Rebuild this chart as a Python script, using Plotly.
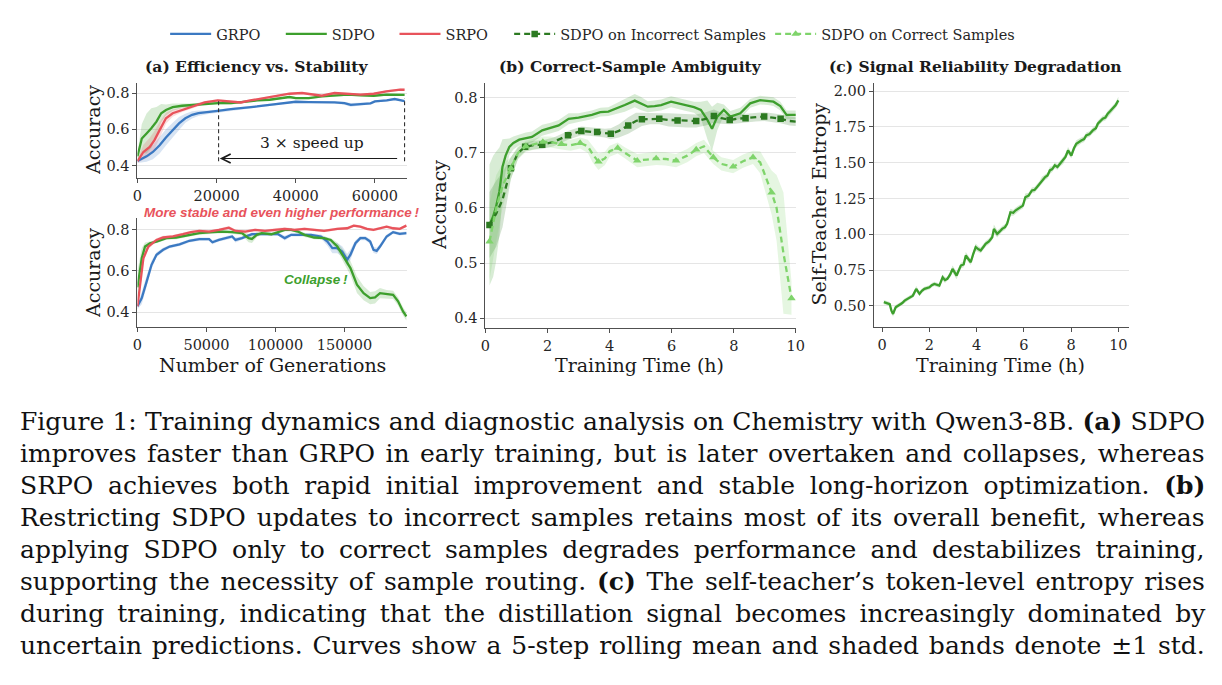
import plotly.graph_objects as go

W, H = 1222, 685

# ---------------- data ----------------
# (a) top : Efficiency vs. Stability (first ~68k generations)
grpo_top_x = [0, 2300, 3900, 5600, 7200, 8900, 10500, 12100, 13800, 15400, 17900, 20300, 23600, 26900, 30200,
              33400, 36700, 40000, 43300, 46600, 49800, 52300, 53900, 56400, 58900, 60000, 63000, 65000, 66400, 67500]
grpo_top_y = [0.426, 0.452, 0.476, 0.513, 0.556, 0.596, 0.633, 0.661, 0.680, 0.689, 0.694, 0.702, 0.711, 0.717, 0.726,
              0.735, 0.744, 0.752, 0.750, 0.750, 0.748, 0.744, 0.735, 0.739, 0.743, 0.754, 0.759, 0.767, 0.763, 0.756]
grpo_top_s = [0.010, 0.030, 0.040, 0.045, 0.045, 0.040, 0.035, 0.025, 0.020, 0.015, 0.010, 0.008, 0.008, 0.007, 0.007,
              0.006, 0.006, 0.006, 0.006, 0.006, 0.006, 0.008, 0.010, 0.008, 0.006, 0.006, 0.006, 0.006, 0.006, 0.006]

sdpo_top_x = [0, 1100, 2300, 3500, 4800, 6000, 7200, 8900, 11300, 13800, 17000, 20300, 23600, 26900, 30200, 33400,
              36700, 38400, 40000, 43300, 46600, 49800, 53100, 56400, 59700, 62900, 66400, 67500]
sdpo_top_y = [0.452, 0.550, 0.578, 0.606, 0.643, 0.689, 0.707, 0.722, 0.730, 0.733, 0.741, 0.744, 0.744, 0.752, 0.759,
              0.763, 0.772, 0.778, 0.772, 0.772, 0.781, 0.785, 0.791, 0.787, 0.785, 0.791, 0.791, 0.790]
sdpo_top_s = [0.020, 0.080, 0.110, 0.110, 0.080, 0.050, 0.030, 0.020, 0.012, 0.010, 0.008, 0.007, 0.007, 0.006, 0.006,
              0.006, 0.006, 0.006, 0.006, 0.006, 0.006, 0.006, 0.006, 0.006, 0.006, 0.006, 0.006, 0.006]

srpo_top_x = [0, 1500, 3100, 4300, 5600, 7200, 8900, 11300, 13800, 17000, 20300, 23600, 26100, 28500, 31800, 35100,
              38400, 41600, 44900, 46600, 49800, 53100, 56400, 59700, 62900, 66400, 67500]
srpo_top_y = [0.426, 0.476, 0.504, 0.541, 0.596, 0.661, 0.689, 0.707, 0.726, 0.748, 0.759, 0.754, 0.748, 0.759, 0.772,
              0.781, 0.796, 0.800, 0.791, 0.785, 0.800, 0.796, 0.791, 0.796, 0.809, 0.819, 0.818]
srpo_top_s = [0.010, 0.040, 0.050, 0.050, 0.045, 0.030, 0.020, 0.012, 0.010, 0.008, 0.007, 0.007, 0.007, 0.006, 0.006,
              0.006, 0.006, 0.006, 0.006, 0.006, 0.006, 0.006, 0.006, 0.006, 0.006, 0.006, 0.006]

# (a) bottom : full run
grpo_bot_x = [0, 3100, 6700, 10200, 13800, 18600, 23300, 30500, 37600, 44800, 51900, 54300, 59000, 63800, 68600,
              71000, 75700, 82900, 90000, 94800, 101900, 106700, 111400, 118600, 125700, 132900, 137600, 141200,
              144800, 148300, 151900, 154300, 157900, 161400, 165000, 168600, 171000, 173300, 175700, 180500,
              185200, 190000, 194800]
grpo_bot_y = [0.428, 0.468, 0.549, 0.630, 0.679, 0.703, 0.719, 0.730, 0.747, 0.755, 0.755, 0.740, 0.751, 0.760, 0.768,
              0.751, 0.760, 0.779, 0.779, 0.779, 0.779, 0.760, 0.776, 0.776, 0.776, 0.768, 0.743, 0.711,
              0.711, 0.695, 0.654, 0.679, 0.735, 0.760, 0.760, 0.743, 0.703, 0.698, 0.719, 0.768,
              0.789, 0.781, 0.784]
grpo_bot_s = [0.015, 0.030, 0.030, 0.020, 0.012, 0.010, 0.008, 0.008, 0.008, 0.008, 0.008, 0.010, 0.008, 0.008, 0.010,
              0.012, 0.008, 0.008, 0.008, 0.008, 0.008, 0.012, 0.008, 0.008, 0.008, 0.010, 0.020, 0.025,
              0.025, 0.025, 0.030, 0.025, 0.015, 0.010, 0.010, 0.012, 0.015, 0.015, 0.012, 0.010,
              0.008, 0.008, 0.008]

sdpo_bot_x = [0, 3100, 5500, 9000, 13800, 21000, 28000, 35000, 44800, 54300, 61400, 68600, 75700, 80500, 82900,
              86400, 90000, 97000, 101900, 106700, 111400, 116200, 121000, 128000, 135200, 140000, 144800, 149500,
              154300, 159000, 163800, 168600, 172100, 175700, 180500, 185200, 188800, 192400, 194800]
sdpo_bot_y = [0.520, 0.662, 0.719, 0.735, 0.743, 0.760, 0.763, 0.772, 0.784, 0.789, 0.792, 0.789, 0.784, 0.760, 0.756,
              0.776, 0.784, 0.779, 0.789, 0.800, 0.800, 0.792, 0.776, 0.763, 0.760, 0.751, 0.719, 0.670,
              0.614, 0.533, 0.492, 0.468, 0.471, 0.492, 0.487, 0.484, 0.452, 0.403, 0.379]
sdpo_bot_s = [0.080, 0.050, 0.020, 0.010, 0.008, 0.008, 0.008, 0.008, 0.008, 0.008, 0.008, 0.008, 0.010, 0.020, 0.020,
              0.012, 0.008, 0.008, 0.008, 0.008, 0.008, 0.008, 0.010, 0.008, 0.008, 0.010, 0.020, 0.030,
              0.035, 0.040, 0.035, 0.030, 0.030, 0.025, 0.020, 0.020, 0.020, 0.020, 0.020]

srpo_bot_x = [0, 1900, 4300, 7900, 13800, 18600, 25700, 32900, 38800, 44800, 51900, 59000, 66200, 71000, 78100,
              85200, 92400, 99500, 106700, 113800, 121000, 128100, 135200, 140000, 144800, 151900, 156700,
              161400, 166200, 171000, 175700, 180500, 185200, 190000, 194800]
srpo_bot_y = [0.428, 0.533, 0.662, 0.719, 0.751, 0.763, 0.768, 0.779, 0.789, 0.795, 0.792, 0.800, 0.811, 0.795, 0.792,
              0.800, 0.795, 0.800, 0.805, 0.800, 0.805, 0.800, 0.795, 0.800, 0.805, 0.808, 0.821,
              0.816, 0.805, 0.800, 0.808, 0.816, 0.808, 0.805, 0.821]
srpo_bot_s = [0.015, 0.030, 0.020, 0.012, 0.008, 0.008, 0.007, 0.007, 0.007, 0.007, 0.007, 0.007, 0.008, 0.007, 0.007,
              0.007, 0.007, 0.008, 0.008, 0.007, 0.007, 0.007, 0.007, 0.007, 0.007, 0.007, 0.007,
              0.007, 0.007, 0.007, 0.007, 0.007, 0.007, 0.007, 0.007]

# (b) Correct-Sample Ambiguity (training time in hours)
sdpo_b_x = [0.13, 0.25, 0.34, 0.45, 0.55, 0.65, 0.77, 0.90, 1.09, 1.30, 1.50, 1.83, 2.10, 2.36, 2.68, 3.00, 3.43,
            3.70, 3.96, 4.20, 4.49, 4.81, 5.00, 5.23, 5.45, 5.66, 5.98, 6.20, 6.40, 6.72, 6.94, 7.15, 7.30,
            7.47, 7.68, 7.89, 8.21, 8.53, 8.85, 9.10, 9.28, 9.50, 9.70, 10.0]
sdpo_b_y = [0.569, 0.585, 0.602, 0.630, 0.675, 0.695, 0.711, 0.718, 0.724, 0.727, 0.729, 0.741, 0.745, 0.750, 0.762,
            0.764, 0.769, 0.774, 0.775, 0.780, 0.787, 0.795, 0.790, 0.784, 0.785, 0.787, 0.793, 0.790, 0.787,
            0.783, 0.778, 0.760, 0.744, 0.766, 0.778, 0.766, 0.772, 0.790, 0.796, 0.795, 0.793, 0.785, 0.769,
            0.769]
sdpo_b_s = [0.110, 0.110, 0.100, 0.080, 0.050, 0.030, 0.015, 0.012, 0.010, 0.010, 0.010, 0.010, 0.010, 0.010, 0.010,
            0.008, 0.008, 0.008, 0.008, 0.010, 0.012, 0.012, 0.012, 0.010, 0.010, 0.010, 0.010, 0.010, 0.010,
            0.010, 0.015, 0.035, 0.040, 0.025, 0.010, 0.010, 0.010, 0.008, 0.008, 0.008, 0.008, 0.008, 0.008,
            0.008]

inc_b_x = [0.13, 0.35, 0.55, 0.82, 1.05, 1.28, 1.55, 1.83, 2.20, 2.66, 3.09, 3.35, 3.60, 3.85, 4.04, 4.30, 4.60,
           4.85, 5.04, 5.30, 5.60, 5.90, 6.19, 6.50, 6.79, 7.10, 7.36, 7.60, 7.87, 8.10, 8.38, 8.70, 8.98, 9.25,
           9.51, 9.80, 10.0]
inc_b_y = [0.569, 0.590, 0.615, 0.672, 0.700, 0.711, 0.714, 0.715, 0.720, 0.732, 0.740, 0.739, 0.738, 0.736, 0.735,
           0.740, 0.750, 0.758, 0.761, 0.762, 0.762, 0.760, 0.759, 0.758, 0.758, 0.762, 0.767, 0.763, 0.760, 0.762,
           0.763, 0.765, 0.766, 0.764, 0.762, 0.758, 0.757]
inc_b_s = [0.060, 0.060, 0.050, 0.020, 0.010, 0.008, 0.008, 0.008, 0.008, 0.008, 0.008, 0.008, 0.008, 0.008, 0.010,
           0.012, 0.015, 0.015, 0.012, 0.010, 0.010, 0.012, 0.012, 0.012, 0.012, 0.012, 0.012, 0.010, 0.008, 0.008,
           0.008, 0.008, 0.008, 0.008, 0.008, 0.008, 0.008]
inc_b_marker = [1, 0, 0, 1, 0, 1, 0, 1, 0, 1, 1, 0, 1, 0, 1, 0, 1, 0, 1, 0, 1, 0, 1, 0, 1, 0, 1, 0, 1, 0, 1, 0, 1, 0,
                1, 0, 0]

cor_b_x = [0.13, 0.35, 0.55, 0.82, 1.05, 1.30, 1.85, 2.10, 2.45, 2.75, 3.05, 3.30, 3.45, 3.64, 3.85, 4.00, 4.26, 4.50,
           4.89, 5.20, 5.50, 5.80, 6.14, 6.50, 6.79, 7.04, 7.34, 7.60, 7.98, 8.30, 8.62, 8.85, 9.06, 9.22, 9.38,
           9.60, 9.86]
cor_b_y = [0.539, 0.600, 0.640, 0.672, 0.700, 0.712, 0.720, 0.720, 0.716, 0.714, 0.718, 0.712, 0.698, 0.684, 0.690,
           0.703, 0.709, 0.700, 0.686, 0.688, 0.690, 0.689, 0.686, 0.695, 0.706, 0.712, 0.692, 0.680, 0.675, 0.685,
           0.692, 0.683, 0.652, 0.628, 0.600, 0.518, 0.436]
cor_b_s = [0.070, 0.060, 0.040, 0.020, 0.012, 0.010, 0.010, 0.010, 0.010, 0.010, 0.010, 0.012, 0.015, 0.015, 0.012,
           0.010, 0.010, 0.010, 0.012, 0.012, 0.012, 0.012, 0.012, 0.012, 0.012, 0.012, 0.012, 0.012, 0.012, 0.012,
           0.012, 0.020, 0.030, 0.040, 0.060, 0.110, 0.030]
cor_b_marker = [1, 0, 0, 1, 0, 1, 1, 0, 1, 0, 1, 0, 0, 1, 0, 0, 1, 0, 1, 0, 1, 0, 1, 0, 1, 0, 1, 0, 1, 0, 1, 0, 0, 1,
                0, 0, 1]

# (c) Signal Reliability Degradation
ent_x = [0.07, 0.18, 0.25, 0.32, 0.39, 0.46, 0.57, 0.66, 0.74, 0.85, 0.95, 1.05, 1.16, 1.30, 1.44, 1.58, 1.68, 1.79,
         2.00, 2.10, 2.21, 2.42, 2.56, 2.66, 2.76, 2.88, 2.98, 3.15, 3.33, 3.45, 3.54, 3.65, 3.75, 3.85, 3.96, 4.08,
         4.17, 4.30, 4.38, 4.52, 4.66, 4.73, 4.87, 4.98, 5.08, 5.20, 5.29, 5.43, 5.55, 5.64, 5.85, 5.96, 6.06,
         6.20, 6.34, 6.45, 6.55, 6.66, 6.76, 6.90, 7.00, 7.10, 7.20, 7.31, 7.42, 7.52, 7.66, 7.76, 7.87, 8.01,
         8.12, 8.22, 8.43, 8.55, 8.64, 8.78, 8.92, 9.05, 9.13, 9.34, 9.45, 9.55, 9.66, 9.76, 9.88, 10.0]
ent_y = [0.526, 0.522, 0.519, 0.512, 0.467, 0.444, 0.491, 0.500, 0.514, 0.520, 0.537, 0.548, 0.560, 0.572, 0.619,
         0.584, 0.605, 0.619, 0.630, 0.645, 0.654, 0.642, 0.700, 0.680, 0.689, 0.720, 0.758, 0.712, 0.782, 0.790,
         0.852, 0.825, 0.805, 0.860, 0.910, 0.895, 0.887, 0.915, 0.933, 0.950, 0.980, 1.038, 1.003, 1.020, 1.038,
         1.050, 1.073, 1.154, 1.150, 1.166, 1.189, 1.200, 1.259, 1.270, 1.306, 1.310, 1.329, 1.350, 1.376, 1.399,
         1.410, 1.446, 1.455, 1.481, 1.470, 1.492, 1.515, 1.540, 1.585, 1.550, 1.600, 1.632, 1.655, 1.665, 1.690,
         1.700, 1.725, 1.740, 1.772, 1.807, 1.815, 1.842, 1.860, 1.877, 1.900, 1.935]
ent_s = [0.015, 0.015, 0.015, 0.015, 0.020, 0.020, 0.015, 0.015, 0.015, 0.015, 0.015, 0.015, 0.015,
         0.015, 0.020, 0.015, 0.015, 0.015, 0.015, 0.015, 0.015, 0.015, 0.020, 0.020, 0.015, 0.020,
         0.025, 0.025, 0.020, 0.020, 0.025, 0.020, 0.020, 0.020, 0.025, 0.020, 0.020, 0.020, 0.020,
         0.020, 0.020, 0.030, 0.025, 0.020, 0.020, 0.020, 0.020, 0.025, 0.020, 0.020, 0.020, 0.020,
         0.025, 0.020, 0.020, 0.020, 0.020, 0.020, 0.025, 0.020, 0.020, 0.025, 0.020, 0.020, 0.020,
         0.020, 0.025, 0.020, 0.025, 0.020, 0.020, 0.025, 0.020, 0.020, 0.020, 0.020, 0.020, 0.020,
         0.020, 0.020, 0.020, 0.020, 0.020, 0.020, 0.020, 0.025]

# ticks
a_top_xticks = [0, 20000, 40000, 60000]
a_bot_xticks = [0, 50000, 100000, 150000]
acc_a_yticks = [0.4, 0.6, 0.8]
b_xticks = [0, 2, 4, 6, 8, 10]
b_yticks = [0.4, 0.5, 0.6, 0.7, 0.8]
c_xticks = [0, 2, 4, 6, 8, 10]
c_yticks = [0.50, 0.75, 1.00, 1.25, 1.50, 1.75, 2.00]

# speed-up annotation (data coords of panel a-top)
speed_left_x = 20500
speed_right_x = 67500
speed_arrow_y = 0.44
speed_left_top = 0.755
speed_right_top = 0.772
speed_bottom = 0.425

legend_names = ["GRPO", "SDPO", "SRPO", "SDPO on Incorrect Samples", "SDPO on Correct Samples"]

caption_lines = [
    "Figure 1: Training dynamics and diagnostic analysis on Chemistry with Qwen3-8B. <b>(a)</b> SDPO",
    "improves faster than GRPO in early training, but is later overtaken and collapses, whereas",
    "SRPO achieves both rapid initial improvement and stable long-horizon optimization. <b>(b)</b>",
    "Restricting SDPO updates to incorrect samples retains most of its overall benefit, whereas",
    "applying SDPO only to correct samples degrades performance and destabilizes training,",
    "supporting the necessity of sample routing. <b>(c)</b> The self-teacher\u2019s token-level entropy rises",
    "during training, indicating that the distillation signal becomes increasingly dominated by",
    "uncertain predictions. Curves show a 5-step rolling mean and shaded bands denote \u00b11 std.",
]

# ---------------- styling / layout constants ----------------
C_GRPO = "#3b79c2"
C_SDPO = "#3d9f2d"
C_SRPO = "#e8535b"
C_INC = "#2c7a21"
C_COR = "#7fd46b"
SERIF = "DejaVu Serif"
SPINE = "#505050"
CAP_SIZE = 25
CAP_X0 = 13
CAP_TARGET = 1183
# estimated natural pixel widths of the caption lines at CAP_SIZE (used for justification)
cap_natural = [1180, 1150, 1115, 1149, 1120, 1152, 1131, 1158]
legend_line_start = [167, 284, 399, 515, 779]


def rgba(hexc, a):
    h = hexc.lstrip("#")
    return "rgba(%d,%d,%d,%.3f)" % (int(h[0:2], 16), int(h[2:4], 16), int(h[4:6], 16), a)


def px(x):
    return x / W


def py(y):
    return 1 - y / H


fig = go.Figure()


def add_band(x, y, s, color, xa, ya, alpha=0.2):
    up = [a + b for a, b in zip(y, s)]
    lo = [a - b for a, b in zip(y, s)]
    fig.add_trace(go.Scatter(x=list(x) + list(x)[::-1], y=up + lo[::-1], fill="toself",
                             fillcolor=rgba(color, alpha), line=dict(width=0), mode="lines",
                             hoverinfo="skip", showlegend=False, xaxis=xa, yaxis=ya))


def add_line(x, y, color, name, xa, ya, legend=None, dash="solid", width=2.3, **kw):
    fig.add_trace(go.Scatter(x=x, y=y, mode=kw.pop("mode", "lines"), name=name,
                             line=dict(color=color, width=width, dash=dash),
                             showlegend=legend is not None, legend=legend or "legend",
                             xaxis=xa, yaxis=ya, **kw))


# panel a top
for xs, ys, ss, c in [(grpo_top_x, grpo_top_y, grpo_top_s, C_GRPO), (sdpo_top_x, sdpo_top_y, sdpo_top_s, C_SDPO),
                      (srpo_top_x, srpo_top_y, srpo_top_s, C_SRPO)]:
    add_band(xs, ys, ss, c, "x", "y")
add_line(grpo_top_x, grpo_top_y, C_GRPO, legend_names[0], "x", "y", "legend")
add_line(sdpo_top_x, sdpo_top_y, C_SDPO, legend_names[1], "x", "y", "legend2")
add_line(srpo_top_x, srpo_top_y, C_SRPO, legend_names[2], "x", "y", "legend3")

# panel a bottom
for xs, ys, ss, c in [(grpo_bot_x, grpo_bot_y, grpo_bot_s, C_GRPO), (sdpo_bot_x, sdpo_bot_y, sdpo_bot_s, C_SDPO),
                      (srpo_bot_x, srpo_bot_y, srpo_bot_s, C_SRPO)]:
    add_band(xs, ys, ss, c, "x2", "y2")
add_line(grpo_bot_x, grpo_bot_y, C_GRPO, legend_names[0], "x2", "y2")
add_line(sdpo_bot_x, sdpo_bot_y, C_SDPO, legend_names[1], "x2", "y2")
add_line(srpo_bot_x, srpo_bot_y, C_SRPO, legend_names[2], "x2", "y2")

# panel b
add_band(sdpo_b_x, sdpo_b_y, sdpo_b_s, C_SDPO, "x3", "y3", 0.2)
add_band(inc_b_x, inc_b_y, inc_b_s, C_INC, "x3", "y3", 0.2)
add_band(cor_b_x, cor_b_y, cor_b_s, C_COR, "x3", "y3", 0.2)
add_line(sdpo_b_x, sdpo_b_y, C_SDPO, legend_names[1], "x3", "y3")
add_line(inc_b_x, inc_b_y, C_INC, legend_names[3], "x3", "y3", "legend4", dash="6px,4px",
         mode="lines+markers",
         marker=dict(symbol="square", size=6.5,
                     color=[C_INC if m else "rgba(0,0,0,0)" for m in inc_b_marker]))
add_line(cor_b_x, cor_b_y, C_COR, legend_names[4], "x3", "y3", "legend5", dash="6px,4px",
         mode="lines+markers",
         marker=dict(symbol="triangle-up", size=7.5,
                     color=[C_COR if m else "rgba(0,0,0,0)" for m in cor_b_marker]))

# panel c
add_band(ent_x, ent_y, ent_s, C_SDPO, "x4", "y4", 0.22)
add_line(ent_x, ent_y, C_SDPO, legend_names[1], "x4", "y4", width=2.3)

tickfont = dict(family=SERIF, size=14.5, color="#262626")


def xaxis(domain, rng, vals, anchor):
    return dict(domain=domain, range=rng, tickvals=vals, ticktext=[str(v) for v in vals], anchor=anchor,
                showline=True, linecolor=SPINE, linewidth=1.2, ticks="outside", ticklen=4, tickwidth=1.2,
                tickcolor=SPINE, showgrid=False, zeroline=False, tickfont=tickfont, fixedrange=True)


def yaxis(domain, rng, vals, anchor, fmt):
    return dict(domain=domain, range=rng, tickvals=vals, ticktext=[fmt % v for v in vals], anchor=anchor,
                showline=True, linecolor=SPINE, linewidth=1.2, ticks="outside", ticklen=4, tickwidth=1.2,
                tickcolor=SPINE, showgrid=True, gridcolor="#e5e5e5", gridwidth=1.2, zeroline=False,
                tickfont=tickfont, fixedrange=True)


def legend_box(xpx):
    return dict(orientation="h", x=px(xpx - 5), xanchor="left", y=py(34), yanchor="middle",
                font=dict(family=SERIF, size=14.5, color="#262626"), itemsizing="trace",
                bgcolor="rgba(0,0,0,0)", itemwidth=41, borderwidth=0)


fig.update_layout(
    width=W, height=H, margin=dict(l=0, r=0, t=0, b=0),
    paper_bgcolor="white", plot_bgcolor="white",
    xaxis=xaxis([px(134), px(407)], [0, 68200], a_top_xticks, "y"),
    yaxis=yaxis([py(178), py(83)], [0.333, 0.855], acc_a_yticks, "x", "%.1f"),
    xaxis2=xaxis([px(134), px(407)], [0, 195500], a_bot_xticks, "y2"),
    yaxis2=yaxis([py(327), py(218)], [0.327, 0.858], acc_a_yticks, "x2", "%.1f"),
    xaxis3=xaxis([px(486), px(800)], [0, 10], b_xticks, "y3"),
    yaxis3=yaxis([py(328), py(83)], [0.382, 0.827], b_yticks, "x3", "%.1f"),
    xaxis4=xaxis([px(879), px(1137)], [-0.35, 10.45], c_xticks, "y4"),
    yaxis4=yaxis([py(327), py(83)], [0.353, 2.056], c_yticks, "x4", "%.2f"),
    legend=legend_box(legend_line_start[0]),
    legend2=legend_box(legend_line_start[1]),
    legend3=legend_box(legend_line_start[2]),
    legend4=legend_box(legend_line_start[3]),
    legend5=legend_box(legend_line_start[4]),
    showlegend=True,
)

ann = []
# panel titles
for txt, cx in [("(a) Efficiency vs. Stability", 254), ("(b) Correct-Sample Ambiguity", 633),
                ("(c) Signal Reliability Degradation", 982)]:
    ann.append(dict(text="<b>%s</b>" % txt, x=px(cx), y=py(67), xref="paper", yref="paper", showarrow=False,
                    xanchor="center", yanchor="middle", font=dict(family=SERIF, size=15.5, color="#1a1a1a")))
# axis titles
for txt, cx, cy, ang in [("Accuracy", 89, 130, -90), ("Accuracy", 89, 273, -90), ("Accuracy", 439, 205, -90),
                         ("Self-Teacher Entropy", 823, 204, -90), ("Number of Generations", 271, 365, 0),
                         ("Training Time (h)", 642, 365, 0), ("Training Time (h)", 1007, 365, 0)]:
    ann.append(dict(text=txt, x=px(cx), y=py(cy), xref="paper", yref="paper", showarrow=False, textangle=ang,
                    xanchor="center", yanchor="middle", font=dict(family=SERIF, size=19, color="#1a1a1a")))
# speed-up arrow and label
ann.append(dict(x=speed_left_x + 300, y=speed_arrow_y, ax=speed_right_x - 1500, ay=speed_arrow_y, xref="x", yref="y",
                axref="x", ayref="y", text="", showarrow=True, arrowhead=5, arrowsize=1.6, arrowwidth=1.1,
                arrowcolor="#1a1a1a"))
ann.append(dict(text="3 \u00d7 speed up", x=(speed_left_x + speed_right_x) / 2, y=0.525, xref="x", yref="y",
                showarrow=False, font=dict(family=SERIF, size=15.5, color="#1a1a1a")))
# callouts
ann.append(dict(text="<b><i>More stable and even higher performance\u2009!</i></b>", x=px(280), y=py(213),
                xref="paper", yref="paper", showarrow=False, xanchor="center", yanchor="middle",
                font=dict(family="Liberation Sans, Arial, sans-serif", size=13.5, color=C_SRPO)))
ann.append(dict(text="<b><i>Collapse\u2009!</i></b>", x=px(315), y=py(280), xref="paper", yref="paper",
                showarrow=False, xanchor="center", yanchor="middle",
                font=dict(family="Liberation Sans, Arial, sans-serif", size=13.5, color=C_SDPO)))
# caption (justified through word spacing)
for i, line in enumerate(caption_lines):
    n_sp = line.replace("<b>", "").replace("</b>", "").count(" ")
    ws = (CAP_TARGET - cap_natural[i]) / max(n_sp, 1)
    ann.append(dict(text='<span style="word-spacing:%.2fpx">%s</span>' % (ws, line), x=px(CAP_X0),
                    y=py(421 + 32 * i), xref="paper", yref="paper", showarrow=False,
                    xanchor="left", yanchor="middle", font=dict(family=SERIF, size=CAP_SIZE, color="#111111")))
fig.update_layout(annotations=ann)

shapes = []
for sx, top in [(speed_left_x, speed_left_top), (speed_right_x, speed_right_top)]:
    shapes.append(dict(type="line", xref="x", yref="y", x0=sx, x1=sx, y0=speed_bottom, y1=top,
                       line=dict(color="#333333", width=1.1, dash="4px,3px")))
fig.update_layout(shapes=shapes)

fig.write_html("out.html")
